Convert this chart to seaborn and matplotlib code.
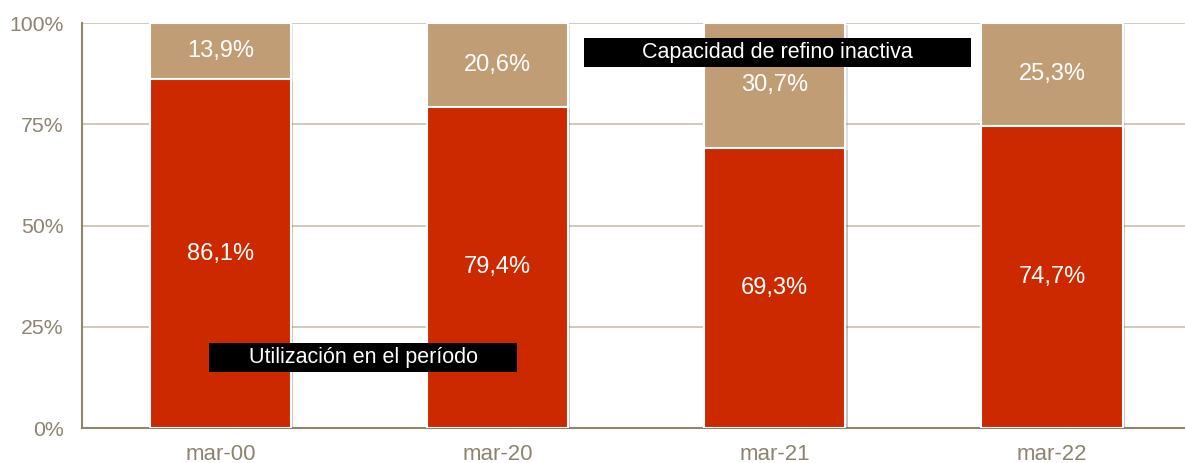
import matplotlib.pyplot as plt
import matplotlib.patheffects as pe
import numpy as np
import pandas as pd
import seaborn as sns

periodos = ['mar-00', 'mar-20', 'mar-21', 'mar-22']
utilizacion = [86.1, 79.4, 69.3, 74.7]
inactiva = [13.9, 20.6, 30.7, 25.3]

rojo = '#cc2900'
tostado = '#c19d76'
gris = '#8c8470'

sns.set_theme(style='white')
plt.rcParams['font.family'] = ['Liberation Sans', 'DejaVu Sans']

df = pd.DataFrame({'periodo': periodos, 'util': utilizacion, 'inact': inactiva})
df['total'] = df['util'] + df['inact']

fig, ax = plt.subplots(figsize=(11.85, 4.63), dpi=100)
fig.subplots_adjust(left=0.069, right=1.0, top=0.95, bottom=0.075)

sombra = [pe.SimplePatchShadow(offset=(1.5, -1.5), alpha=0.15), pe.Normal()]
sns.barplot(data=df, x='periodo', y='total', color=tostado, width=0.51,
            edgecolor='white', linewidth=1.5, saturation=1, ax=ax, zorder=2)
sns.barplot(data=df, x='periodo', y='util', color=rojo, width=0.51,
            edgecolor='white', linewidth=1.5, saturation=1, ax=ax, zorder=3)
for p in ax.patches:
    p.set_path_effects(sombra)

for i in range(len(periodos)):
    ax.text(i, utilizacion[i] / 2, f'{utilizacion[i]:.1f}%'.replace('.', ','),
            ha='center', va='center', color='white', fontsize=17, zorder=5)
    ax.text(i, utilizacion[i] + inactiva[i] / 2, f'{inactiva[i]:.1f}%'.replace('.', ','),
            ha='center', va='center', color='white', fontsize=17, zorder=5)

caja = dict(boxstyle='square,pad=0.18', fc='black', ec='none')
ax.text(0.515, 17.5, ' ' * 6 + 'Utilización en el período' + ' ' * 6, ha='center', va='center',
        color='white', fontsize=15.5, bbox=caja, zorder=6)
ax.text(2.01, 92.8, ' ' * 9 + 'Capacidad de refino inactiva' + ' ' * 9, ha='center', va='center',
        color='white', fontsize=15.5, bbox=caja, zorder=6)

ax.set_xlim(-0.5, 3.48)
ax.set_ylim(0, 100)
ax.set_yticks([0, 25, 50, 75, 100])
ax.set_yticklabels(['0%', '25%', '50%', '75%', '100%'])
ax.yaxis.grid(True, color='#c8c0b0', linewidth=1.2, zorder=0)
ax.set_axisbelow(True)
ax.set_xlabel('')
ax.set_ylabel('')
ax.tick_params(axis='y', colors=gris, labelsize=15.3, length=0, pad=13)
ax.tick_params(axis='x', colors=gris, labelsize=16, length=0, pad=11)
for s in ['top', 'right']:
    ax.spines[s].set_visible(False)
for s in ['left', 'bottom']:
    ax.spines[s].set_color('#8f8670')
    ax.spines[s].set_linewidth(1.5)

fig.savefig('out.png', dpi=100)
